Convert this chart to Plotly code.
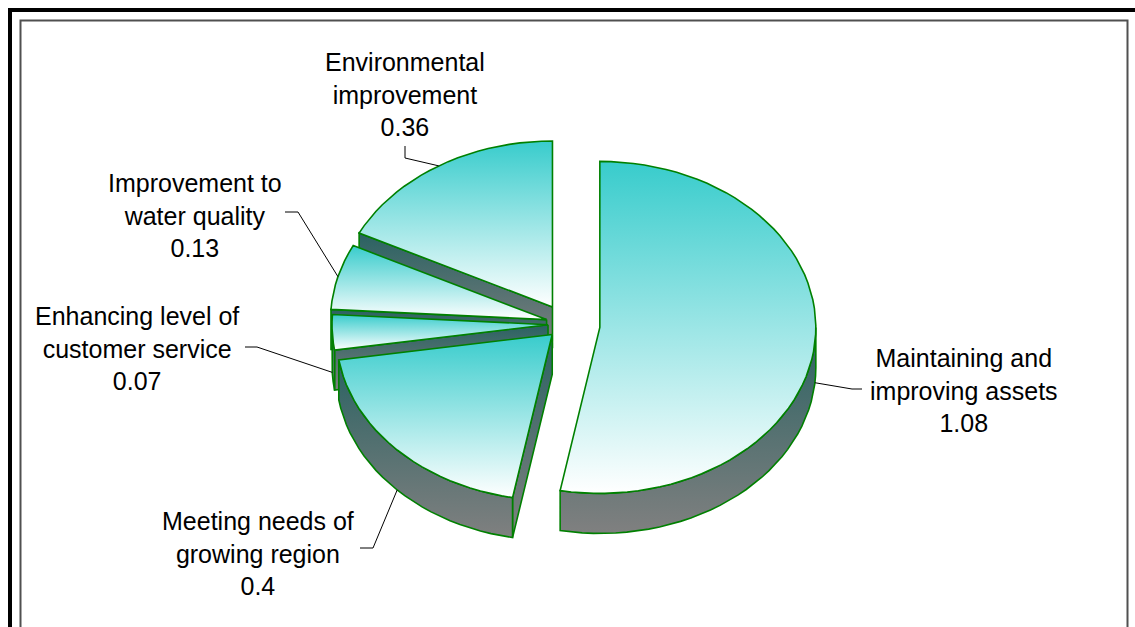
import numpy as np
import plotly.graph_objects as go

# Spending split by purpose
categories = [
    "Maintaining and\nimproving assets",
    "Meeting needs of\ngrowing region",
    "Enhancing level of\ncustomer service",
    "Improvement to\nwater quality",
    "Environmental\nimprovement",
]
values = [1.08, 0.40, 0.07, 0.13, 0.36]

# Page and pie geometry (page pixels, y grows downward)
W, H = 1135, 627
CX, CY = 563, 324          # centre of the un-exploded pie
RX, RY = 216, 166          # radii of the tilted top ellipse
DEPTH = 40                 # thickness of the pie
PULL = [37, 15, 15, 17, 20]  # explode distance of each slice along its bisector

# Label blocks and the start/elbow of their leader lines
LABEL_POS = [(964, 390), (258, 553), (137, 348), (195, 215), (405, 94)]
LEADER = [
    [(862, 389), (852, 389)],
    [(360, 548), (373, 548)],
    [(245, 347), (257, 347)],
    [(285, 212), (298, 212)],
    [(405, 146), (405, 158)],
]

TOP_SCALE = [[0, "#38cccc"], [1, "#ffffff"]]
WALL_SCALE = [[0, "#2a6262"], [1, "#808080"]]
EDGE = dict(color="#008000", width=1.6)
FONT = dict(family="Liberation Sans, Arial, sans-serif", size=25, color="black")

total = sum(values)
bounds = np.concatenate([[0], np.cumsum(values) / total * 360.0])


def rim(apex, th, dz=0.0):
    t = np.radians(th)
    return apex[0] + RX * np.sin(t), apex[1] - RY * np.cos(t) + dz


def arc(apex, a, b, dz=0.0, n=120):
    th = np.linspace(a, b, max(2, int(n * (b - a) / 360) + 2))
    x, y = rim(apex, th, dz)
    return list(x), list(y)


def poly(fig, xs, ys, scale):
    fig.add_trace(go.Scatter(
        x=xs + [xs[0]], y=ys + [ys[0]], mode="lines", fill="toself",
        line=EDGE, hoverinfo="skip", showlegend=False,
        fillgradient=dict(type="vertical", colorscale=scale,
                          start=min(ys), stop=max(ys)),
    ))


fig = go.Figure()

slices = []
for i, v in enumerate(values):
    a, b = bounds[i], bounds[i + 1]
    mid = np.radians((a + b) / 2)
    apex = (CX + PULL[i] * np.sin(mid), CY - PULL[i] * np.cos(mid))
    slices.append(dict(i=i, a=a, b=b, mid=np.degrees(mid), apex=apex,
                       front=-np.cos(mid)))

# paint from the back of the pie towards the viewer
for s in sorted(slices, key=lambda s: s["front"]):
    a, b, apex = s["a"], s["b"], s["apex"]
    # radial walls that face the viewer
    for th, visible in ((a, np.sin(np.radians(a)) < -1e-6),
                        (b, np.sin(np.radians(b)) > 1e-6)):
        if visible:
            rx_, ry_ = rim(apex, th)
            poly(fig, [apex[0], rx_, rx_, apex[0]],
                 [apex[1], ry_, ry_ + DEPTH, apex[1] + DEPTH], WALL_SCALE)
    # curved outer wall on the near half
    lo, hi = max(a, 90.0), min(b, 270.0)
    if hi > lo:
        tx, ty = arc(apex, lo, hi)
        bx, by = arc(apex, lo, hi, DEPTH)
        poly(fig, tx + bx[::-1], ty + by[::-1], WALL_SCALE)
    # top face
    tx, ty = arc(apex, a, b)
    poly(fig, [apex[0]] + tx, [apex[1]] + ty, TOP_SCALE)

# labels with leader lines
for s in slices:
    i = s["i"]
    drop = DEPTH if s["front"] > -0.1 else 0.0
    ex, ey = rim(s["apex"], s["mid"], drop)
    (sx, sy), (kx, ky) = LEADER[i]
    fig.add_trace(go.Scatter(
        x=[sx, kx, ex], y=[sy, ky, ey], mode="lines",
        line=dict(color="black", width=1), hoverinfo="skip", showlegend=False,
    ))
    fig.add_annotation(
        x=LABEL_POS[i][0], y=LABEL_POS[i][1], xref="x", yref="y",
        text=categories[i].replace("\n", "<br>") + "<br>" + f"{values[i]:g}",
        showarrow=False, align="center", font=FONT,
        xanchor="center", yanchor="middle",
    )

# frames
fig.add_shape(type="rect", xref="x", yref="y", x0=10, y0=10, x1=W + 20, y1=H + 20,
              line=dict(color="black", width=4))
fig.add_shape(type="rect", xref="x", yref="y", x0=20.5, y0=20.5, x1=1127.5, y1=H + 20,
              line=dict(color="#505050", width=2))

fig.update_layout(
    width=W, height=H, margin=dict(l=0, r=0, t=0, b=0),
    paper_bgcolor="white", plot_bgcolor="white",
    xaxis=dict(range=[0, W], visible=False, fixedrange=True),
    yaxis=dict(range=[H, 0], visible=False, fixedrange=True),
)

fig.write_html("out.html")
